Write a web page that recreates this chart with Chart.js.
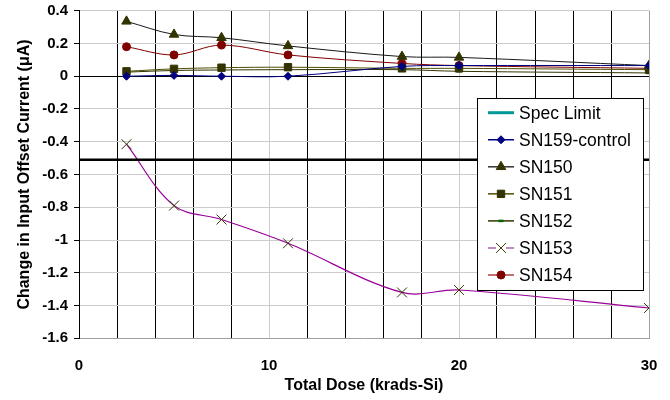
<!DOCTYPE html>
<html>
<head>
<meta charset="utf-8">
<script src="https://cdn.jsdelivr.net/npm/chart.js@4.4.1/dist/chart.umd.min.js"></script>
<style>
  html, body { margin: 0; padding: 0; background: #ffffff; }
  #wrap { width: 670px; height: 400px; }
</style>
</head>
<body>
<div id="wrap"><canvas id="c" width="670" height="400"></canvas></div>
<script>
// Total dose steps (krads-Si)
const dose = [2.5, 5, 7.5, 11, 17, 20, 30];

// Change in input offset current (uA) per device
const sn159 = [0, 0.005, 0, 0, 0.06, 0.065, 0.065];
const sn150 = [0.335, 0.255, 0.235, 0.185, 0.12, 0.115, 0.065];
const sn151 = [0.03, 0.045, 0.052, 0.055, 0.048, 0.048, 0.04];
const sn152 = [0.025, 0.035, 0.038, 0.04, 0.04, 0.03, 0.02];
const sn153 = [-0.415, -0.79, -0.875, -1.02, -1.32, -1.305, -1.415];
const sn154 = [0.18, 0.13, 0.19, 0.13, 0.078, 0.065, 0.048];

// Specification limit, drawn across the whole dose range
const specLimit = -0.51;
const specDose = [0, 30];

// Axis ranges and steps
const xRange = [0, 30];
const xGridStep = 2;
const xLabelStep = 10;
const yRange = [-1.6, 0.4];
const yStep = 0.2;

const FONT = "'Liberation Sans', Arial, Helvetica, sans-serif";

const pts = (xs, ys) => xs.map((x, i) => ({ x: x, y: ys[i] }));

const series = [
  {
    label: 'Spec Limit',
    data: specDose.map(x => ({ x: x, y: specLimit })),
    borderColor: '#000000', borderWidth: 2.5, pointRadius: 0, tension: 0,
    legendLine: '#009999', legendWidth: 3, pointStyle: false
  },
  {
    label: 'SN159-control',
    data: pts(dose, sn159),
    borderColor: '#000080', borderWidth: 1,
    pointStyle: 'rectRot', pointRadius: 4,
    pointBackgroundColor: '#000080', pointBorderColor: '#000080',
    legendLine: '#000080'
  },
  {
    label: 'SN150',
    data: pts(dose, sn150),
    borderColor: '#1a1a1a', borderWidth: 1,
    pointStyle: 'triangle', pointRadius: 5.5,
    pointBackgroundColor: '#333300', pointBorderColor: '#333300',
    legendLine: '#333333'
  },
  {
    label: 'SN151',
    data: pts(dose, sn151),
    borderColor: '#4d4d00', borderWidth: 1,
    pointStyle: 'rect', pointRadius: 5.2,
    pointBackgroundColor: '#333300', pointBorderColor: '#333300',
    legendLine: '#4d4d00'
  },
  {
    label: 'SN152',
    data: pts(dose, sn152),
    borderColor: '#333300', borderWidth: 1,
    pointStyle: 'line', pointRadius: 2.5, pointBorderWidth: 2.5,
    pointBackgroundColor: '#006600', pointBorderColor: '#006600',
    legendLine: '#333300'
  },
  {
    label: 'SN153',
    data: pts(dose, sn153),
    borderColor: '#990099', borderWidth: 1.2,
    pointStyle: 'crossRot', pointRadius: 7, pointBorderWidth: 1,
    pointBackgroundColor: '#333300', pointBorderColor: '#333300',
    legendLine: '#b060b0', legendGap: true
  },
  {
    label: 'SN154',
    data: pts(dose, sn154),
    borderColor: '#800000', borderWidth: 1,
    pointStyle: 'circle', pointRadius: 4,
    pointBackgroundColor: '#800000', pointBorderColor: '#800000',
    legendLine: '#b04040'
  }
];

series.forEach(s => {
  if (s.tension === undefined) s.tension = 0.35;
  s.fill = false;
  s.showLine = true;
  if (s.pointBorderWidth === undefined) s.pointBorderWidth = 1;
  s.pointHoverRadius = s.pointRadius;
});

// Legend box drawn inside the plot area
const boxLegend = {
  id: 'boxLegend',
  afterDraw(chart) {
    const ctx = chart.ctx;
    const left = 477.5, top = 98.5, w = 166, h = 192;
    const rowH = 27.05, firstRow = 112.7;
    ctx.save();
    ctx.fillStyle = '#ffffff';
    ctx.fillRect(left, top, w, h);
    ctx.strokeStyle = '#000000';
    ctx.lineWidth = 1;
    ctx.strokeRect(left, top, w, h);
    ctx.font = '17.5px ' + FONT;
    ctx.textBaseline = 'middle';
    ctx.textAlign = 'left';
    chart.data.datasets.forEach((ds, i) => {
      const y = firstRow + i * rowH;
      const x0 = 488, x1 = 514, xm = 501;
      ctx.strokeStyle = ds.legendLine;
      ctx.lineWidth = ds.legendWidth || 1.5;
      ctx.beginPath();
      if (ds.legendGap) {
        ctx.moveTo(x0, y); ctx.lineTo(xm - 5, y);
        ctx.moveTo(xm + 5, y); ctx.lineTo(x1, y);
      } else {
        ctx.moveTo(x0, y); ctx.lineTo(x1, y);
      }
      ctx.stroke();
      if (ds.pointStyle) {
        ctx.fillStyle = ds.pointBackgroundColor;
        ctx.strokeStyle = ds.pointBorderColor;
        ctx.lineWidth = ds.pointBorderWidth;
        Chart.helpers.drawPoint(ctx, {
          pointStyle: ds.pointStyle,
          radius: ds.pointRadius,
          rotation: 0,
          borderWidth: ds.pointBorderWidth
        }, xm, y);
      }
      ctx.fillStyle = '#000000';
      ctx.fillText(ds.label, 519, y + 1);
    });
    ctx.restore();
  }
};

new Chart(document.getElementById('c'), {
  type: 'line',
  data: { datasets: series },
  plugins: [boxLegend],
  options: {
    responsive: false,
    animation: false,
    events: [],
    layout: { padding: { top: 10.7, right: 21, bottom: 0, left: 9 } },
    plugins: {
      legend: { display: false },
      tooltip: { enabled: false },
      title: { display: false }
    },
    scales: {
      x: {
        type: 'linear',
        min: xRange[0], max: xRange[1],
        afterFit(s) { s.height = 61.7; s.paddingLeft = 0; s.paddingRight = 0; },
        afterBuildTicks(s) {
          const t = [];
          for (let v = xRange[0]; v <= xRange[1] + 1e-9; v += xGridStep) t.push({ value: v });
          s.ticks = t;
        },
        ticks: {
          autoSkip: false, maxRotation: 0,
          padding: 19,
          color: '#000000',
          font: { family: FONT, size: 15, weight: 'bold' },
          callback: v => (Math.abs(v % xLabelStep) < 1e-9 ? String(v) : '')
        },
        grid: {
          drawTicks: false,
          lineWidth: 1,
          color: c => {
            const v = c.tick ? c.tick.value : 0;
            if (v === xRange[1]) return '#a0a0a0';
            if (v !== 0 && Math.abs(v % xLabelStep) < 1e-9) return '#cccccc';
            return '#000000';
          }
        },
        border: { display: true, color: '#a0a0a0', width: 1 },
        title: {
          display: true,
          text: 'Total Dose (krads-Si)',
          color: '#000000',
          font: { family: FONT, size: 16, weight: 'bold' },
          padding: { top: 0, bottom: 5 }
        }
      },
      y: {
        type: 'linear',
        min: yRange[0], max: yRange[1],
        afterFit(s) { s.width = 70; s.paddingTop = 0; s.paddingBottom = 0; },
        afterBuildTicks(s) {
          const t = [];
          const n = Math.round((yRange[1] - yRange[0]) / yStep);
          for (let i = 0; i <= n; i++) t.push({ value: Math.round((yRange[0] + i * yStep) * 10) / 10 });
          s.ticks = t;
        },
        ticks: {
          padding: 6,
          color: '#000000',
          font: { family: FONT, size: 15, weight: 'bold' },
          callback: v => String(Math.round(v * 10) / 10)
        },
        grid: {
          drawTicks: true,
          tickLength: 5,
          tickColor: '#000000',
          lineWidth: 1,
          color: c => {
            const v = c.tick ? c.tick.value : 1;
            return Math.abs(v) < 1e-9 ? '#000000' : '#cccccc';
          }
        },
        border: { display: true, color: '#000000', width: 1 },
        title: {
          display: true,
          text: 'Change in Input Offset Current (\u03bcA)',
          color: '#000000',
          font: { family: FONT, size: 16, weight: 'bold' },
          padding: { top: 6, bottom: 0 }
        }
      }
    }
  }
});
</script>
</body>
</html>
